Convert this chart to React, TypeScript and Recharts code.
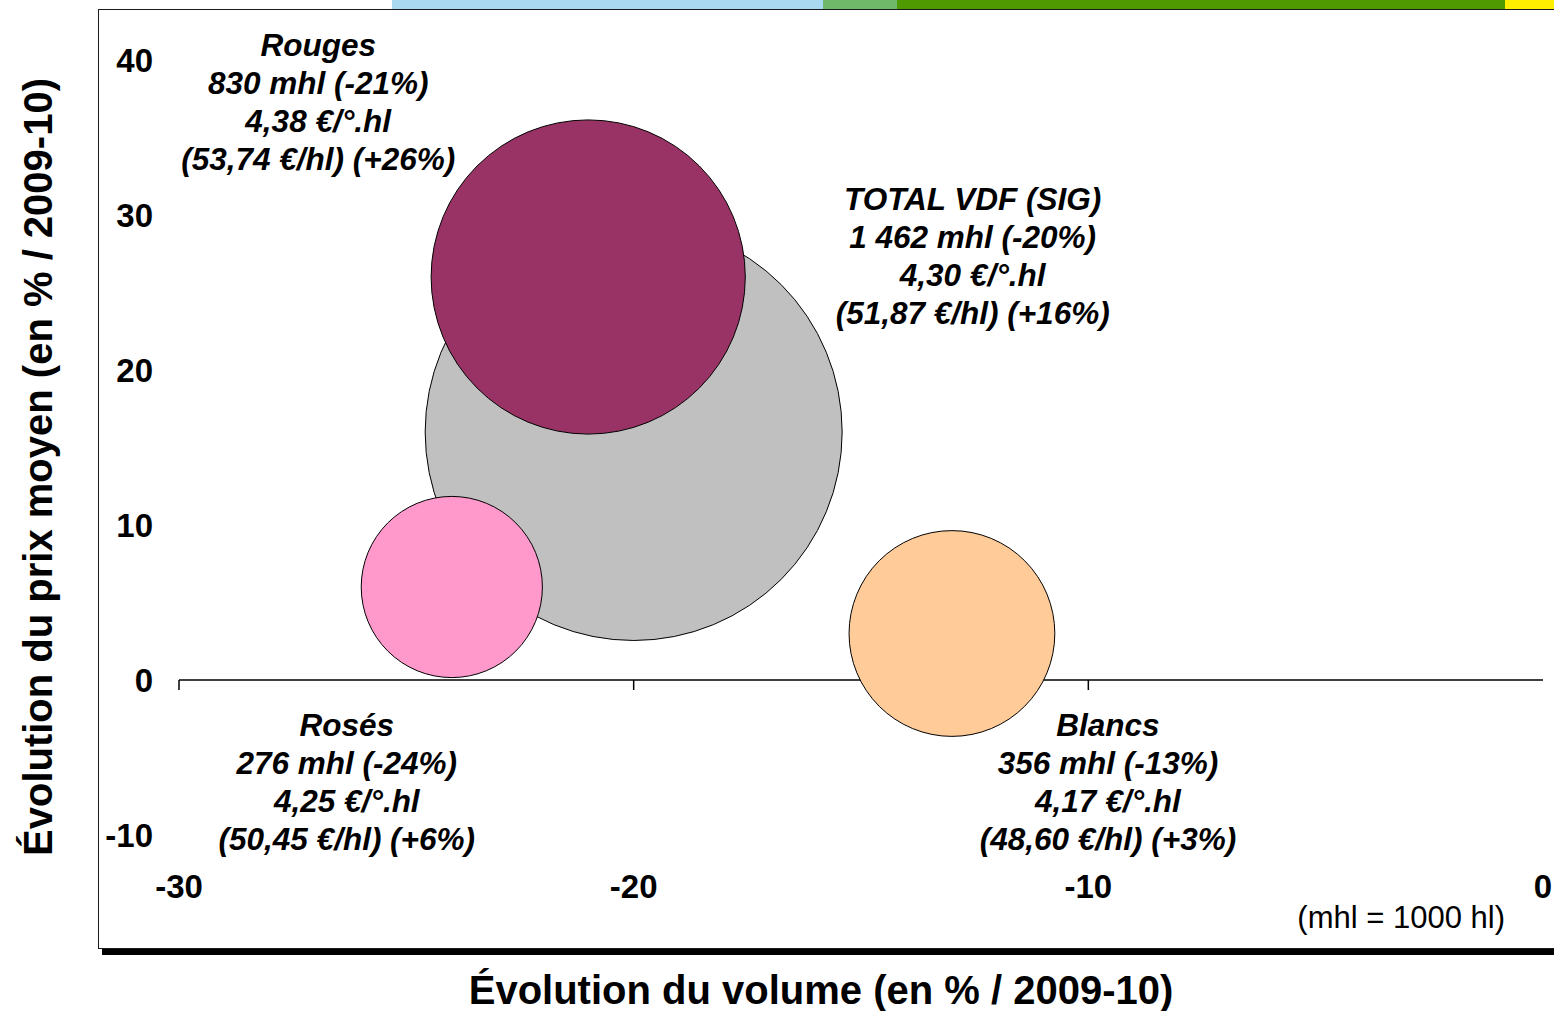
import React from 'react';
import {
  ScatterChart,
  Scatter,
  XAxis,
  YAxis,
  ZAxis,
  ReferenceLine,
  ReferenceDot,
} from 'recharts';

// ---------- data ----------
const SERIES_NAMES = ['TOTAL VDF (SIG)', 'Rouges', 'Rosés', 'Blancs'];
const VOLUME_CHANGE = [-20, -21, -24, -13]; // % vs 2009-10
const PRICE_CHANGE = [16, 26, 6, 3]; // % vs 2009-10
const VOLUME_MHL = [1462, 830, 276, 356];
const LABEL_LINES = [
  ['TOTAL VDF (SIG)', '1 462 mhl (-20%)', '4,30 €/°.hl', '(51,87 €/hl) (+16%)'],
  ['Rouges', '830 mhl (-21%)', '4,38 €/°.hl', '(53,74 €/hl) (+26%)'],
  ['Rosés', '276 mhl (-24%)', '4,25 €/°.hl', '(50,45 €/hl) (+6%)'],
  ['Blancs', '356 mhl (-13%)', '4,17 €/°.hl', '(48,60 €/hl) (+3%)'],
];
const X_TICKS = [-30, -20, -10, 0];
const Y_TICKS = [-10, 0, 10, 20, 30, 40];
const X_TITLE = 'Évolution du volume (en % / 2009-10)';
const Y_TITLE = 'Évolution du prix moyen (en % / 2009-10)';
const NOTE = '(mhl = 1000 hl)';

// ---------- styles ----------
const COLORS = ['#c0c0c0', '#993366', '#ff99cc', '#ffcc99'];
// label block placement relative to bubble centre (px): [dx, dy of first line]
const LABEL_OFFSETS = [
  [339, -233],
  [-270, -232],
  [-105, 138],
  [156, 91],
];
const LINE_GAP = 38;
const FONT = '"Liberation Sans", Arial, Helvetica, sans-serif';

const data = SERIES_NAMES.map((name, i) => ({
  name,
  x: VOLUME_CHANGE[i],
  y: PRICE_CHANGE[i],
  z: VOLUME_MHL[i],
}));

const Bubble = (props: any) => {
  const { cx, cy, payload } = props;
  const i = SERIES_NAMES.indexOf(payload?.name);
  let r = 0;
  if (typeof props.width === 'number' && props.width > 0) r = props.width / 2;
  else if (typeof props.size === 'number') r = Math.sqrt(props.size / Math.PI);
  const [dx, dy] = LABEL_OFFSETS[i] || [0, 0];
  const lines = LABEL_LINES[i] || [];
  return (
    <g>
      <circle cx={cx} cy={cy} r={r} fill={COLORS[i]} stroke="#000" strokeWidth={1} />
      <text
        x={cx + dx}
        y={cy + dy}
        textAnchor="middle"
        dominantBaseline="central"
        fontFamily={FONT}
        fontSize={31.5}
        fontWeight="bold"
        fontStyle="italic"
        fill="#000"
      >
        {lines.map((l, k) => (
          <tspan key={k} x={cx + dx} y={cy + dy + k * LINE_GAP}>
            {l}
          </tspan>
        ))}
      </text>
    </g>
  );
};

const XTickMark = (props: any) => {
  const { cx, cy } = props;
  return <line x1={cx} y1={cy} x2={cx} y2={cy + 10} stroke="#000" strokeWidth={1.5} />;
};

const tickStyle = { fontSize: 33, fontWeight: 'bold', fill: '#000', fontFamily: FONT };

export default function App() {
  return (
    <div
      style={{
        position: 'absolute',
        left: 0,
        top: 0,
        width: 1554,
        height: 1011,
        background: '#fff',
        overflow: 'hidden',
        fontFamily: FONT,
      }}
    >
      {/* top colour band */}
      <div style={{ position: 'absolute', left: 392, top: 0, width: 431, height: 9, background: '#a9d9f1' }} />
      <div style={{ position: 'absolute', left: 823, top: 0, width: 74, height: 9, background: '#6fb86a' }} />
      <div style={{ position: 'absolute', left: 897, top: 0, width: 608, height: 9, background: '#4f9a00' }} />
      <div style={{ position: 'absolute', left: 1505, top: 0, width: 49, height: 9, background: '#ffee00' }} />
      {/* frame with shadow */}
      <div
        style={{
          position: 'absolute',
          left: 98,
          top: 9,
          width: 1520,
          height: 940,
          boxSizing: 'border-box',
          border: '1.5px solid #1a1a1a',
          boxShadow: '4px 6px 0 #000',
          background: '#fff',
        }}
      />
      <div style={{ position: 'absolute', left: 0, top: 0 }}>
        <ScatterChart width={1554} height={1011} margin={{ top: 60, right: 11, left: 79, bottom: 96 }}>
          <XAxis
            type="number"
            dataKey="x"
            domain={[-30, 0]}
            ticks={X_TICKS}
            interval={0}
            axisLine={false}
            tickLine={false}
            tickSize={0}
            tickMargin={40}
            height={80}
            tick={tickStyle}
          />
          <YAxis
            yAxisId="left"
            type="number"
            dataKey="y"
            domain={[-10, 40]}
            ticks={Y_TICKS}
            interval={0}
            width={100}
            axisLine={false}
            tickLine={false}
            tickSize={0}
            tickMargin={26}
            tick={tickStyle}
          />
          <YAxis
            yAxisId="right"
            orientation="right"
            mirror
            type="number"
            domain={[-10, 40]}
            ticks={Y_TICKS}
            interval={0}
            width={0}
            tick={false}
            tickLine={{ stroke: '#000', strokeWidth: 1.5 }}
            tickSize={11}
            axisLine={{ stroke: '#000', strokeWidth: 1.5 }}
          />
          <ZAxis type="number" dataKey="z" domain={[0, 1462]} range={[0, 136572]} />
          <ReferenceLine yAxisId="left" y={0} stroke="#000" strokeWidth={1.5} />
          {X_TICKS.slice(0, -1).map((t) => (
            <ReferenceDot
              key={t}
              yAxisId="left"
              x={t}
              y={0}
              r={0}
              shape={XTickMark}
              isFront={false}
            />
          ))}
          <Scatter yAxisId="left" data={data} shape={Bubble} isAnimationActive={false} />
        </ScatterChart>
      </div>
      {/* axis titles and note */}
      <div
        style={{
          position: 'absolute',
          left: 38,
          top: 467,
          transform: 'translate(-50%, -50%) rotate(-90deg)',
          whiteSpace: 'nowrap',
          fontSize: 40,
          fontWeight: 'bold',
          color: '#000',
          lineHeight: 1,
        }}
      >
        {Y_TITLE}
      </div>
      <div
        style={{
          position: 'absolute',
          left: 821,
          top: 990,
          transform: 'translate(-50%, -50%)',
          whiteSpace: 'nowrap',
          fontSize: 40,
          fontWeight: 'bold',
          color: '#000',
          lineHeight: 1,
        }}
      >
        {X_TITLE}
      </div>
      <div
        style={{
          position: 'absolute',
          left: 1505,
          top: 917,
          transform: 'translate(-100%, -50%)',
          whiteSpace: 'nowrap',
          fontSize: 31,
          color: '#000',
          lineHeight: 1,
        }}
      >
        {NOTE}
      </div>
    </div>
  );
}
